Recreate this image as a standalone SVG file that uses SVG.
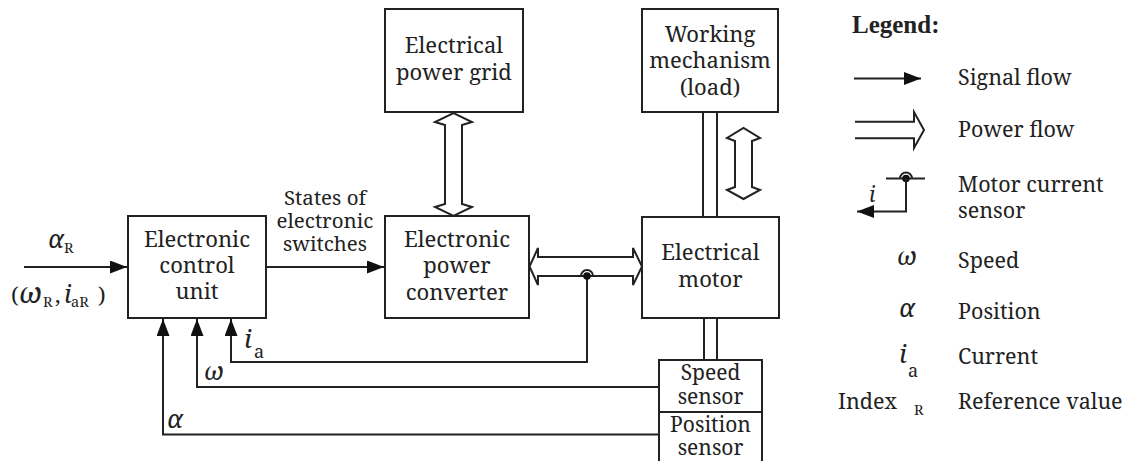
<svg xmlns="http://www.w3.org/2000/svg" width="1134" height="461" viewBox="0 0 1134 461">
<style>
.box{fill:#fff;stroke:#222;stroke-width:2}
.ln{fill:none;stroke:#222;stroke-width:2}
.pw{fill:#fff;stroke:#222;stroke-width:2;stroke-linejoin:miter}
text{font-family:'Noto Serif','DejaVu Serif',serif;fill:#222}
.t{font-size:22px;text-anchor:middle}
.s{font-size:21px;text-anchor:middle}
.lg{font-size:21.5px}
.it{font-style:italic}
.sub{font-size:14.5px}
.gk{font-size:25px;font-style:italic}
</style>
<defs>
<marker id="ah" markerUnits="userSpaceOnUse" markerWidth="18" markerHeight="14" refX="17" refY="6.5" orient="auto">
<path d="M0,0 L17,6.5 L0,13 Z" fill="#111"/>
</marker>
</defs>

<g id="connectors">
<path class="ln" d="M24,267 H127" marker-end="url(#ah)"/>
<path class="ln" d="M266,267 H384" marker-end="url(#ah)"/>
<path class="ln" d="M587,276 V362 H231 V319" marker-end="url(#ah)"/>
<path class="ln" d="M659,387 H197 V319" marker-end="url(#ah)"/>
<path class="ln" d="M659,434.5 H163 V319" marker-end="url(#ah)"/>
<path class="pw" d="M445,125 L435,122 L453.5,113 L472,122 L462,125 V204 L472,207 L453.5,216 L435,207 L445,204 Z"/>
<path class="pw" d="M538,257 V248 L529.5,266.5 L538,285 V276 H633 V285 L642,266.5 L633,248 V257 Z"/>
<path class="pw" d="M735,141 L727,138 L743.5,128 L760,138 L752,141 V187 L760,190 L743.5,199 L727,190 L735,187 Z"/>
<path class="ln" d="M703,112 V217 M717,112 V217 M704,318 V360 M717,318 V360"/>
<path class="ln" d="M581,276 A6,6 0 0 1 593,276"/>
<circle cx="587" cy="276" r="3.8" fill="#111"/>
</g>

<g id="control">
<rect class="box" x="128" y="216" width="138" height="102"/>
<text class="t" x="197" y="247">Electronic</text>
<text class="t" x="197" y="273">control</text>
<text class="t" x="197" y="299">unit</text>
</g>

<g id="converter">
<rect class="box" x="385" y="216" width="144" height="102"/>
<text class="t" x="457" y="247">Electronic</text>
<text class="t" x="457" y="273">power</text>
<text class="t" x="457" y="300">converter</text>
</g>

<g id="grid">
<rect class="box" x="385" y="9" width="138" height="103"/>
<text class="t" x="454" y="53">Electrical</text>
<text class="t" x="454" y="80">power grid</text>
</g>

<g id="load">
<rect class="box" x="642" y="9" width="136" height="103"/>
<text class="t" x="710" y="42">Working</text>
<text class="t" x="710" y="68">mechanism</text>
<text class="t" x="710" y="95">(load)</text>
</g>

<g id="motor">
<rect class="box" x="642" y="217" width="137" height="101"/>
<text class="t" x="710.5" y="260">Electrical</text>
<text class="t" x="710.5" y="287">motor</text>
</g>

<g id="speed-sensor">
<rect class="box" x="659" y="360" width="103" height="52"/>
<text class="s" x="710.5" y="380">Speed</text>
<text class="s" x="710.5" y="404">sensor</text>
</g>

<g id="position-sensor">
<rect class="box" x="659" y="412" width="103" height="54"/>
<text class="s" x="710.5" y="432">Position</text>
<text class="s" x="710.5" y="455">sensor</text>
</g>

<g id="labels">
<text x="48" y="248" class="gk">α</text>
<text x="64" y="253" class="sub">R</text>
<text x="11" y="303" style="font-size:22px">(</text>
<text x="19" y="303" class="gk" style="font-size:29px">ω</text>
<text x="43" y="307" class="sub">R</text>
<text x="55" y="303" style="font-size:22px">,</text>
<text x="64" y="303" class="gk">i</text>
<text x="71" y="307" class="sub">aR</text>
<text x="98" y="303" style="font-size:22px">)</text>
<text class="t" x="325" y="205" style="font-size:20.5px">States of</text>
<text class="t" x="325" y="228" style="font-size:20.5px">electronic</text>
<text class="t" x="325" y="251" style="font-size:20.5px">switches</text>
<text x="244" y="348" class="gk" style="font-size:26px">i</text>
<text x="254" y="358" style="font-size:18px">a</text>
<text x="204" y="380" class="gk">ω</text>
<text x="167" y="428" class="gk">α</text>
</g>

<g id="legend">
<text x="852" y="33" style="font-family:'Liberation Serif','Noto Serif',serif;font-size:25px;font-weight:bold">Legend:</text>
<path class="ln" d="M854,78.5 H921" marker-end="url(#ah)"/>
<text class="lg" x="958" y="85">Signal flow</text>
<path class="ln" d="M855,121.7 H914 V112 L924,130 L914,148 V138.3 H855"/>
<text class="lg" x="958" y="137">Power flow</text>
<path class="ln" d="M886,178.5 H925"/>
<path class="ln" d="M900,178.5 A6,6 0 0 1 912,178.5"/>
<circle cx="906" cy="178.5" r="3.8" fill="#111"/>
<path class="ln" d="M906,178.5 V211.5 H857" marker-end="url(#ah)"/>
<text x="869" y="202" class="gk" style="font-size:21px">i</text>
<text class="lg" x="958" y="192">Motor current</text>
<text class="lg" x="958" y="218">sensor</text>
<text x="897" y="265" class="gk">ω</text>
<text class="lg" x="958" y="268">Speed</text>
<text x="899" y="317" class="gk">α</text>
<text class="lg" x="958" y="319">Position</text>
<text x="899" y="363" class="gk" style="font-size:26px">i</text>
<text x="908" y="377" style="font-size:18px">a</text>
<text class="lg" x="958" y="364">Current</text>
<text class="lg" x="838" y="409">Index</text>
<text x="914" y="415" class="sub">R</text>
<text class="lg" x="958" y="409">Reference value</text>
</g>
</svg>
